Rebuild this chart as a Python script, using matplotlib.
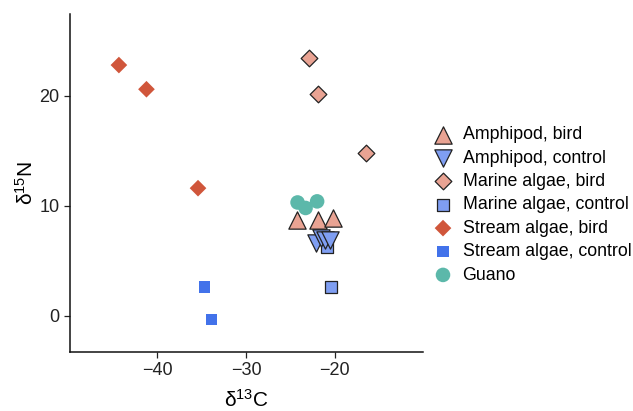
import matplotlib
matplotlib.use("Agg")
import matplotlib.pyplot as plt

plt.rcParams['font.family'] = ['Liberation Sans', 'DejaVu Sans']

# Data (delta13C, delta15N)
amph_bird_x = [-24.3, -21.9, -20.2]
amph_bird_y = [8.7, 8.7, 8.9]
amph_ctrl_x = [-22.1, -21.6, -21.1, -20.6]
amph_ctrl_y = [6.6, 7.1, 6.9, 6.9]
marine_bird_x = [-22.9, -21.9, -16.5]
marine_bird_y = [23.4, 20.2, 14.8]
marine_ctrl_x = [-20.9, -20.4]
marine_ctrl_y = [6.25, 2.6]
stream_bird_x = [-44.3, -41.2, -35.4]
stream_bird_y = [22.8, 20.6, 11.6]
stream_ctrl_x = [-34.7, -33.9]
stream_ctrl_y = [2.6, -0.35]
guano_x = [-24.2, -23.3, -22.0]
guano_y = [10.3, 9.8, 10.4]

xticks = [-40, -30, -20]
yticks = [0, 10, 20]

fig = plt.figure(figsize=(6.33, 4.11), dpi=100)
ax = fig.add_axes([0.1106, 0.1436, 0.5575, 0.8225])

pink = '#E9A393'
lblue = '#7F9EF2'
red = '#D0563B'
blue = '#4272EA'
teal = '#5CB8AA'

ax.scatter(marine_bird_x, marine_bird_y, marker='D', s=72, c=pink, edgecolors='#222222', linewidths=0.9, label='Marine algae, bird', zorder=3)
ax.scatter(stream_bird_x, stream_bird_y, marker='D', s=72, c=red, edgecolors='none', label='Stream algae, bird', zorder=3)
ax.scatter(stream_ctrl_x, stream_ctrl_y, marker='s', s=68, c=blue, edgecolors='none', label='Stream algae, control', zorder=3)
ax.scatter(guano_x, guano_y, marker='o', s=110, c=teal, edgecolors='none', label='Guano', zorder=3)
ax.scatter(amph_bird_x, amph_bird_y, marker='^', s=155, c=pink, edgecolors='#222222', linewidths=0.9, label='Amphipod, bird', zorder=4)
ax.scatter(marine_ctrl_x, marine_ctrl_y, marker='s', s=68, c=lblue, edgecolors='#222222', linewidths=0.9, label='Marine algae, control', zorder=4)
ax.scatter(amph_ctrl_x, amph_ctrl_y, marker='v', s=155, c=lblue, edgecolors='#222222', linewidths=0.9, label='Amphipod, control', zorder=5)

ax.set_xlim(-49.8, -10.1)
ax.set_ylim(-3.3, 27.45)
ax.set_xticks(xticks)
ax.set_yticks(yticks)
ax.set_xticklabels(['\u221240', '\u221230', '\u221220'])
ax.tick_params(labelsize=13, colors='#222222', length=4, width=0.9)
for s in ['top', 'right']:
    ax.spines[s].set_visible(False)
for s in ['left', 'bottom']:
    ax.spines[s].set_linewidth(1.1)
    ax.spines[s].set_color('#111111')

ax.set_xlabel(r'$\mathregular{\delta^{13}C}$', fontsize=15, labelpad=7)
ax.set_ylabel(r'$\mathregular{\delta^{15}N}$', fontsize=15, labelpad=2)

order = ['Amphipod, bird', 'Amphipod, control', 'Marine algae, bird', 'Marine algae, control',
         'Stream algae, bird', 'Stream algae, control', 'Guano']
h, l = ax.get_legend_handles_labels()
d = dict(zip(l, h))
leg = fig.legend([d[k] for k in order], order, loc='upper left', bbox_to_anchor=(0.683, 0.693),
                 frameon=False, fontsize=12.8, handletextpad=0.5, labelspacing=0.36, handlelength=1.2,
                 borderaxespad=0, borderpad=0)

fig.savefig('out.png', dpi=100)
